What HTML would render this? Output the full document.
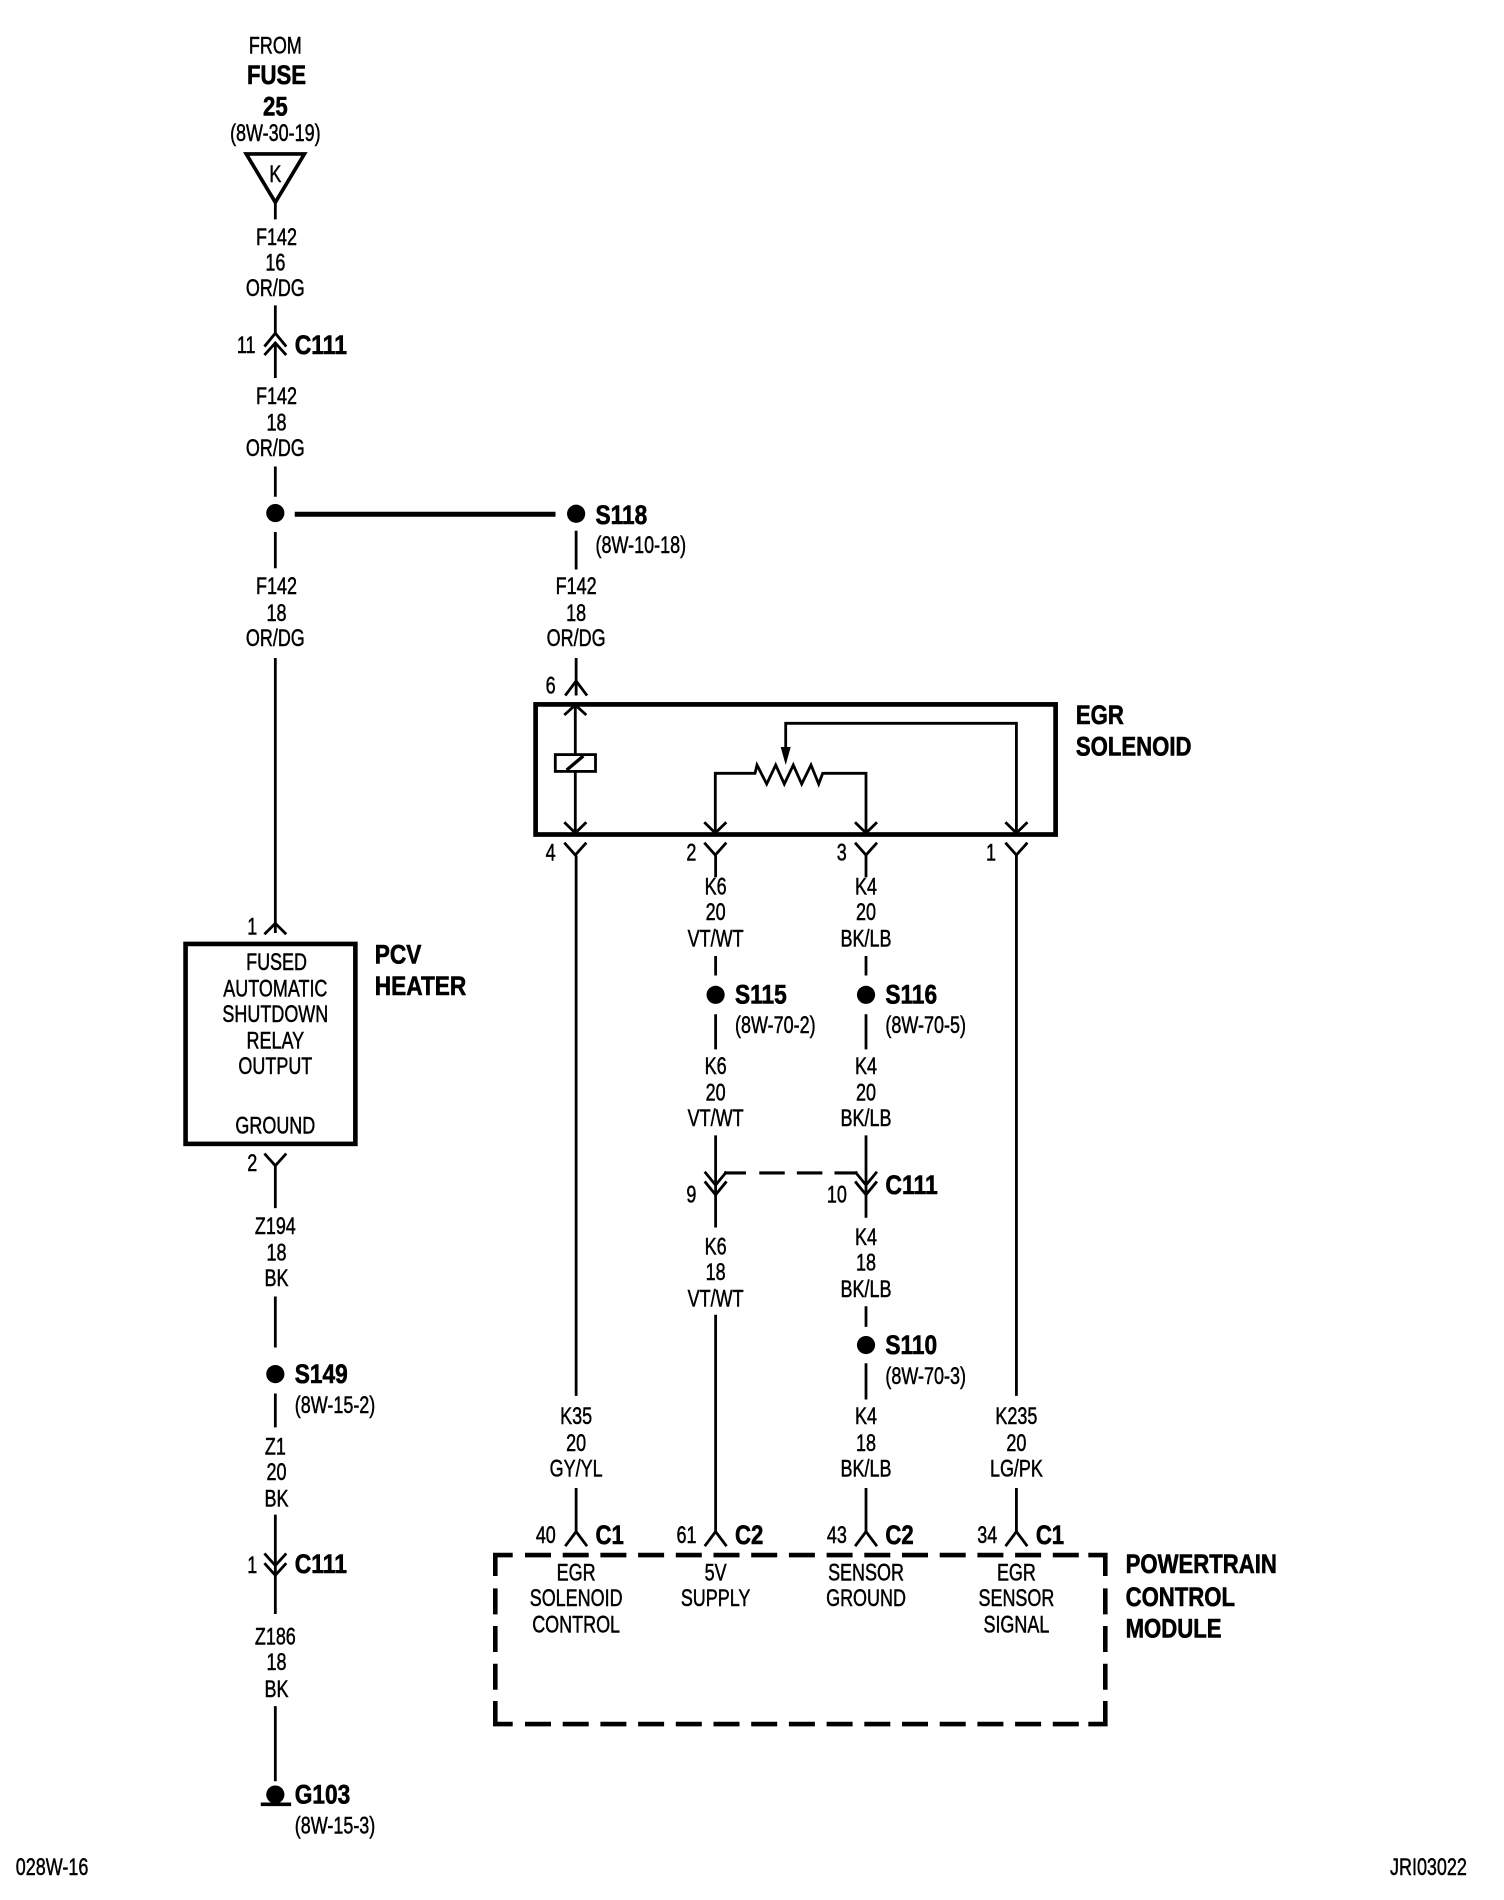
<!DOCTYPE html>
<html><head><meta charset="utf-8"><style>
html,body{margin:0;padding:0;background:#fff}
svg{display:block}
text{font-family:"Liberation Sans",sans-serif;fill:#000}
.r{font-size:19.5px;text-anchor:middle;stroke:#000;stroke-width:.4}
.l{font-size:19.5px;stroke:#000;stroke-width:.4}
.b{font-size:22px;font-weight:bold;stroke:#000;stroke-width:.5}
.bm{font-size:22px;font-weight:bold;text-anchor:middle;stroke:#000;stroke-width:.5}
.w{fill:none;stroke:#000;stroke-width:2.3}
.p{fill:none;stroke:#000;stroke-width:2.8}
</style></head><body>
<svg width="1504" height="1900" viewBox="0 0 1240 1568" preserveAspectRatio="none" xmlns="http://www.w3.org/2000/svg">
<rect width="1240" height="1568" fill="#fff"/>
<g class="w">
<path d="M203 127H251L227 167Z" stroke-width="3"/>
<path d="M227 167V181M227 252V276M227 283V312M227 385V410M227 439V469M227 543V770"/>
<path d="M218 286L227 275L236 286M218 293L227 283L236 293"/>
<path d="M218 771L227 762L236 771"/>
<rect x="153" y="779" width="140" height="165" stroke-width="3.8"/>
<path d="M218 952L227 962L236 952M227 962V997M227 1070V1112M227 1150V1178M227 1250V1300M218 1282L227 1292L236 1282M218 1290L227 1300L236 1290M227 1300V1332M227 1408V1470"/>
<path d="M243 424.4H458" stroke-width="4.2"/>
<path d="M475 438V470M475 543V574M466 574L475 562L484 574"/>
<path d="M475 706V1152M590 706V724M714 706V724M838 706V1152"/>
<path d="M590 789V805M590 837V866M590 937V986M581 967L590 978L599 967M581 975L590 986L599 975M590 986V1013M590 1085V1264"/>
<path d="M714 789V805M714 837V866M714 937V986M705 967L714 978L723 967M705 975L714 986L723 975M714 986V1005M714 1078V1095M714 1125V1155M714 1228V1264M838 1228V1264M475 1228V1264"/>
<path d="M597 968H615M626 968H647M657 968H678M688 968H707" stroke-width="2.6"/>
<path d="M466 1276L475 1264L484 1276M581 1276L590 1264L599 1276M705 1276L714 1264L723 1276M829 1276L838 1264L847 1276"/>
<path d="M215 1489H240" stroke-width="3"/>
</g>
<g class="p" transform="scale(.82447 .82527)">
<rect x="535.6" y="704.4" width="520" height="130.1" stroke-width="4.7"/>
<path d="M575.3 705V833M564.3 715L575.3 705L586.3 715M564.3 822.3L575.3 833L586.3 822.3"/>
<rect x="555.3" y="754.6" width="40.2" height="16.8" fill="#fff"/>
<path d="M566.7 770L583.3 756" stroke-width="3.4"/>
<path d="M715.3 833V773.3H755L757 765L766.7 784L775.7 765L784.3 784L793.3 765L801.7 784L811 765L818.7 784L822.7 773.3H866V833"/>
<path d="M1016.4 833V723.3H785.7V750"/>
<path d="M704.3 822.3L715.3 833L726.3 822.3M855 822.3L866 833L877 822.3M1005.4 822.3L1016.4 833L1027.4 822.3"/>
<path d="M564.3 842.7L575.3 855L586.3 842.7M704.3 842.7L715.3 855L726.3 842.7M855 842.7L866 855L877 842.7M1005.4 842.7L1016.4 855L1027.4 842.7"/>
<path d="M780.7 747H790.7L785.7 765Z" fill="#000" stroke="none"/>
<g stroke-width="4.6">
<path d="M495.3 1576V1555H512.7M495.3 1701V1724H512.7M1088.3 1555H1105.3V1576M1088.3 1724H1105.3V1701"/>
<path d="M525 1555H1080M525 1724H1080M495.3 1588.3V1690M1105.3 1588.3V1690" stroke-dasharray="26 11.7"/>
</g>
</g>
<circle cx="227" cy="423.4" r="7.5"/><circle cx="475" cy="424" r="7.5"/><circle cx="590" cy="821" r="7.5"/><circle cx="714" cy="821" r="7.5"/><circle cx="714" cy="1110" r="7.5"/><circle cx="227" cy="1134" r="7.5"/><circle cx="227" cy="1481" r="7.5"/>

<g transform="translate(0 -.7)">
<text class="r" transform="translate(227 45) scale(.76 1)">FROM</text>
<text class="bm" transform="translate(228 70) scale(.83 1)">FUSE</text>
<text class="bm" transform="translate(227 96) scale(.83 1)">25</text>
<text class="r" transform="translate(227 117) scale(.76 1)">(8W-30-19)</text>
<text class="r" transform="translate(227 151) scale(.76 1)">K</text>
<text class="r" transform="translate(228 203) scale(.76 1)">F142</text>
<text class="r" transform="translate(227 224) scale(.76 1)">16</text>
<text class="r" transform="translate(227 245) scale(.76 1)">OR/DG</text>
<text class="r" transform="translate(203 292) scale(.76 1)">11</text>
<text class="b" transform="translate(243 293) scale(.86 1)">C111</text>
<text class="r" transform="translate(228 334) scale(.76 1)">F142</text>
<text class="r" transform="translate(228 356) scale(.76 1)">18</text>
<text class="r" transform="translate(227 377) scale(.76 1)">OR/DG</text>
<text class="r" transform="translate(228 491) scale(.76 1)">F142</text>
<text class="r" transform="translate(228 513) scale(.76 1)">18</text>
<text class="r" transform="translate(227 534) scale(.76 1)">OR/DG</text>
<text class="r" transform="translate(208 772) scale(.76 1)">1</text>
<text class="r" transform="translate(228 801) scale(.76 1)">FUSED</text>
<text class="r" transform="translate(227 823) scale(.76 1)">AUTOMATIC</text>
<text class="r" transform="translate(227 844) scale(.76 1)">SHUTDOWN</text>
<text class="r" transform="translate(227 866) scale(.76 1)">RELAY</text>
<text class="r" transform="translate(227 887) scale(.76 1)">OUTPUT</text>
<text class="r" transform="translate(227 936) scale(.76 1)">GROUND</text>
<text class="b" transform="translate(309 796) scale(.85 1)">PCV</text>
<text class="b" transform="translate(309 822) scale(.85 1)">HEATER</text>
<text class="r" transform="translate(208 967) scale(.76 1)">2</text>
<text class="r" transform="translate(227 1019) scale(.76 1)">Z194</text>
<text class="r" transform="translate(228 1041) scale(.76 1)">18</text>
<text class="r" transform="translate(228 1062) scale(.76 1)">BK</text>
<text class="b" transform="translate(243 1142) scale(.85 1)">S149</text>
<text class="l" transform="translate(243 1167) scale(.76 1)">(8W-15-2)</text>
<text class="r" transform="translate(227 1201) scale(.76 1)">Z1</text>
<text class="r" transform="translate(228 1222) scale(.76 1)">20</text>
<text class="r" transform="translate(228 1244) scale(.76 1)">BK</text>
<text class="r" transform="translate(208 1299) scale(.76 1)">1</text>
<text class="b" transform="translate(243 1299) scale(.86 1)">C111</text>
<text class="r" transform="translate(227 1358) scale(.76 1)">Z186</text>
<text class="r" transform="translate(228 1379) scale(.76 1)">18</text>
<text class="r" transform="translate(228 1401) scale(.76 1)">BK</text>
<text class="b" transform="translate(243 1489) scale(.85 1)">G103</text>
<text class="l" transform="translate(243 1514) scale(.76 1)">(8W-15-3)</text>
<text class="l" transform="translate(13 1548) scale(.76 1)">028W-16</text>
<text class="l" transform="translate(1146 1548) scale(.76 1)">JRI03022</text>

<text class="b" transform="translate(491 433) scale(.85 1)">S118</text>
<text class="l" transform="translate(491 457) scale(.76 1)">(8W-10-18)</text>
<text class="r" transform="translate(475 491) scale(.76 1)">F142</text>
<text class="r" transform="translate(475 513) scale(.76 1)">18</text>
<text class="r" transform="translate(475 534) scale(.76 1)">OR/DG</text>
<text class="r" transform="translate(454 573) scale(.76 1)">6</text>
<text class="b" transform="translate(887 598) scale(.83 1)">EGR</text>
<text class="b" transform="translate(887 624) scale(.83 1)">SOLENOID</text>
<text class="r" transform="translate(454 711) scale(.76 1)">4</text>
<text class="r" transform="translate(570 711) scale(.76 1)">2</text>
<text class="r" transform="translate(694 711) scale(.76 1)">3</text>
<text class="r" transform="translate(817 711) scale(.76 1)">1</text>

<text class="r" transform="translate(590 739) scale(.76 1)">K6</text>
<text class="r" transform="translate(590 760) scale(.76 1)">20</text>
<text class="r" transform="translate(590 782) scale(.76 1)">VT/WT</text>
<text class="b" transform="translate(606 829) scale(.85 1)">S115</text>
<text class="l" transform="translate(606 853) scale(.76 1)">(8W-70-2)</text>
<text class="r" transform="translate(590 887) scale(.76 1)">K6</text>
<text class="r" transform="translate(590 909) scale(.76 1)">20</text>
<text class="r" transform="translate(590 930) scale(.76 1)">VT/WT</text>
<text class="r" transform="translate(570 993) scale(.76 1)">9</text>
<text class="r" transform="translate(590 1036) scale(.76 1)">K6</text>
<text class="r" transform="translate(590 1057) scale(.76 1)">18</text>
<text class="r" transform="translate(590 1079) scale(.76 1)">VT/WT</text>

<text class="r" transform="translate(714 739) scale(.76 1)">K4</text>
<text class="r" transform="translate(714 760) scale(.76 1)">20</text>
<text class="r" transform="translate(714 782) scale(.76 1)">BK/LB</text>
<text class="b" transform="translate(730 829) scale(.85 1)">S116</text>
<text class="l" transform="translate(730 853) scale(.76 1)">(8W-70-5)</text>
<text class="r" transform="translate(714 887) scale(.76 1)">K4</text>
<text class="r" transform="translate(714 909) scale(.76 1)">20</text>
<text class="r" transform="translate(714 930) scale(.76 1)">BK/LB</text>
<text class="r" transform="translate(690 993) scale(.76 1)">10</text>
<text class="b" transform="translate(730 986) scale(.86 1)">C111</text>
<text class="r" transform="translate(714 1028) scale(.76 1)">K4</text>
<text class="r" transform="translate(714 1049) scale(.76 1)">18</text>
<text class="r" transform="translate(714 1071) scale(.76 1)">BK/LB</text>
<text class="b" transform="translate(730 1118) scale(.85 1)">S110</text>
<text class="l" transform="translate(730 1143) scale(.76 1)">(8W-70-3)</text>
<text class="r" transform="translate(714 1176) scale(.76 1)">K4</text>
<text class="r" transform="translate(714 1198) scale(.76 1)">18</text>
<text class="r" transform="translate(714 1219) scale(.76 1)">BK/LB</text>

<text class="r" transform="translate(475 1176) scale(.76 1)">K35</text>
<text class="r" transform="translate(475 1198) scale(.76 1)">20</text>
<text class="r" transform="translate(475 1219) scale(.76 1)">GY/YL</text>
<text class="r" transform="translate(838 1176) scale(.76 1)">K235</text>
<text class="r" transform="translate(838 1198) scale(.76 1)">20</text>
<text class="r" transform="translate(838 1219) scale(.76 1)">LG/PK</text>

<text class="r" transform="translate(450 1274) scale(.76 1)">40</text>
<text class="b" transform="translate(491 1275) scale(.83 1)">C1</text>
<text class="r" transform="translate(566 1274) scale(.76 1)">61</text>
<text class="b" transform="translate(606 1275) scale(.83 1)">C2</text>
<text class="r" transform="translate(690 1274) scale(.76 1)">43</text>
<text class="b" transform="translate(730 1275) scale(.83 1)">C2</text>
<text class="r" transform="translate(814 1274) scale(.76 1)">34</text>
<text class="b" transform="translate(854 1275) scale(.83 1)">C1</text>

<text class="r" transform="translate(475 1305) scale(.76 1)">EGR</text>
<text class="r" transform="translate(475 1326) scale(.76 1)">SOLENOID</text>
<text class="r" transform="translate(475 1348) scale(.76 1)">CONTROL</text>
<text class="r" transform="translate(590 1305) scale(.76 1)">5V</text>
<text class="r" transform="translate(590 1326) scale(.76 1)">SUPPLY</text>
<text class="r" transform="translate(714 1305) scale(.76 1)">SENSOR</text>
<text class="r" transform="translate(714 1326) scale(.76 1)">GROUND</text>
<text class="r" transform="translate(838 1305) scale(.76 1)">EGR</text>
<text class="r" transform="translate(838 1326) scale(.76 1)">SENSOR</text>
<text class="r" transform="translate(838 1348) scale(.76 1)">SIGNAL</text>
<text class="b" transform="translate(928 1299) scale(.83 1)">POWERTRAIN</text>
<text class="b" transform="translate(928 1326) scale(.83 1)">CONTROL</text>
<text class="b" transform="translate(928 1352) scale(.83 1)">MODULE</text>
</g>
</svg>
</body></html>
